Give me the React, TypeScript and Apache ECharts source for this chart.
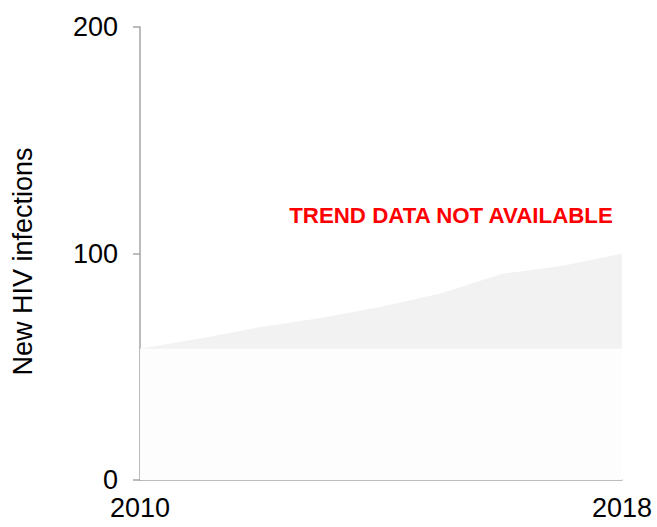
import React, { useEffect, useRef } from "react";
import * as echarts from "echarts";

const years = ["2010", "2011", "2012", "2013", "2014", "2015", "2016", "2017", "2018"];
const lowerBound = [58, 58, 58, 58, 58, 58, 58, 58, 58];
const upperBound = [58, 62.5, 67.5, 71.5, 76.5, 82.5, 91, 94.5, 100];
const yTicks = [0, 100, 200];

export default function App() {
  const ref = useRef<HTMLDivElement>(null);
  useEffect(() => {
    if (!ref.current) return;
    const chart = echarts.init(ref.current, null, { renderer: "svg" });
    const band = upperBound.map((u, i) => u - lowerBound[i]);
    chart.setOption({
      animation: false,
      grid: { left: 140, right: 35, top: 27, bottom: 47, outerBoundsMode: "none", containLabel: false },
      xAxis: {
        type: "category",
        data: years,
        boundaryGap: false,
        axisLine: { lineStyle: { color: "#a6a6a6", width: 1.5 } },
        axisTick: { show: false },
        axisLabel: {
          interval: (i: number) => i === 0 || i === years.length - 1,
          color: "#000",
          fontFamily: "Liberation Sans, Arial, sans-serif",
          fontSize: 27,
          margin: 14,
        },
        splitLine: { show: false },
      },
      yAxis: {
        type: "value",
        min: yTicks[0],
        max: yTicks[yTicks.length - 1],
        interval: 100,
        name: "New HIV infections",
        nameLocation: "middle",
        nameGap: 104,
        nameRotate: 90,
        nameTextStyle: {
          color: "#000",
          fontFamily: "Liberation Sans, Arial, sans-serif",
          fontSize: 27,
          padding: [0, 16, 0, 0],
        },
        axisLine: { show: true, lineStyle: { color: "#a6a6a6", width: 1.5 } },
        axisTick: { show: true, length: 7, lineStyle: { color: "#a6a6a6", width: 1.5 } },
        axisLabel: {
          color: "#000",
          fontFamily: "Liberation Sans, Arial, sans-serif",
          fontSize: 27,
          margin: 22,
        },
        splitLine: { show: false },
      },
      series: [
        {
          type: "line",
          stack: "band",
          data: lowerBound,
          symbol: "none",
          lineStyle: { width: 0 },
          areaStyle: { color: "#fdfdfd", opacity: 1 },
          silent: true,
        },
        {
          type: "line",
          stack: "band",
          data: band,
          symbol: "none",
          lineStyle: { width: 0 },
          areaStyle: { color: "#f2f2f2", opacity: 1 },
          silent: true,
        },
      ],
      graphic: [
        {
          type: "text",
          x: 451,
          y: 215,
          style: {
            text: "TREND DATA NOT AVAILABLE",
            fill: "#ff0000",
            font: "bold 22.3px 'Liberation Sans', Arial, sans-serif",
            align: "center",
            verticalAlign: "middle",
          },
        },
      ],
    });
    return () => chart.dispose();
  }, []);
  return <div ref={ref} style={{ width: 657, height: 527, position: "absolute", left: 0, top: 0 }} />;
}
